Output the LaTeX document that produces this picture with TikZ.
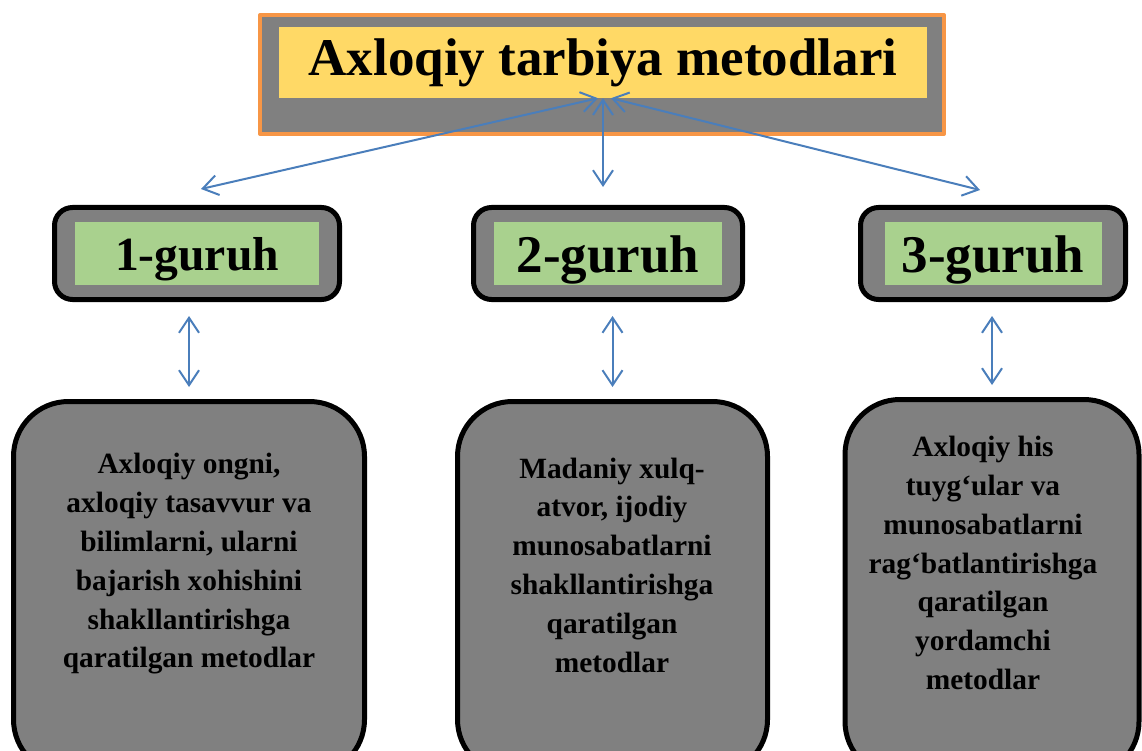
\documentclass[tikz,border=0pt]{standalone}
\usepackage{fontspec}
\setmainfont{Liberation Serif}
\usetikzlibrary{arrows.meta}
\definecolor{boxgray}{RGB}{128,128,128}
\definecolor{titleyellow}{RGB}{255,217,102}
\definecolor{titleorange}{RGB}{247,150,70}
\definecolor{labelgreen}{RGB}{169,209,142}
\definecolor{linkblue}{RGB}{74,126,187}
\begin{document}
\begin{tikzpicture}[x=1pt, y=-1pt, line join = round, >={Straight Barb[length=15pt,width=20pt]}, font=\bfseries]
	\tikzset{link/.style={<->,linkblue,line width=2pt},
		groupbox/.style={draw,line width=5pt,fill=boxgray,rounded corners=18pt,inner sep=0pt,minimum height=92pt},
		descbox/.style={draw,line width=5pt,fill=boxgray,rounded corners=55pt,inner sep=0pt},
		desctext/.style={align=center,font=\bfseries\fontsize{29.4}{38.8}\selectfont}}
	\useasboundingbox (0,0) rectangle (1142,751);
	\path (201,189) coordinate (E1)
	(603,187) coordinate (E2)
	(980,190) coordinate (E3)
	;
	% title
	\node[draw=titleorange,line width=4pt,fill=boxgray,inner sep=0pt,minimum width=684pt,minimum height=119pt] (T) at (602,74.5) {};
	\node[fill=titleyellow,inner sep=0pt,minimum width=648pt,minimum height=71pt,font=\bfseries\fontsize{53}{60}\selectfont] (title) at (603,62.5) {Axloqiy tarbiya metodlari};
	% groups
	\foreach \n/\x/\w/\gw/\s/\h in {1/197/285/244/47.6/35,2/608/269/228/53/40,3/993/265/217/53/40}{
		\node[groupbox,minimum width=\w pt] (b\n) at (\x,253.5) {};
		\node[fill=labelgreen,inner sep=0pt,minimum width=\gw pt,minimum height=62pt,text height=\h pt,text depth=2pt,font=\bfseries\fontsize{\s}{\s}\selectfont] (g\n) at (b\n) {\n-guruh};
	}
	% descriptions
	\node[descbox,minimum width=351pt,minimum height=373pt] (d1) at (189,588) {};
	\node[descbox,minimum width=310pt,minimum height=373pt] (d2) at (612.5,588) {};
	\node[descbox,minimum width=294pt,minimum height=377pt] (d3) at (992,588) {};
	\node[desctext] (t1) at (189,564) {Axloqiy ongni,\\axloqiy tasavvur va\\bilimlarni, ularni\\bajarish xohishini\\shakllantirishga\\qaratilgan metodlar};
	\node[desctext] (t2) at (612,565) {Madaniy xulq-\\atvor, ijodiy\\munosabatlarni\\shakllantirishga\\qaratilgan\\metodlar};
	\node[desctext] (t3) at (983,563) {Axloqiy his\\tuyg‘ular va\\munosabatlarni\\rag‘batlantirishga\\qaratilgan\\yordamchi\\metodlar};
	% arrows
	\draw[link] ([xshift=-5pt]title.south) -- (E1);
	\draw[link] (title.south) -- (E2);
	\draw[link] ([xshift=8pt]title.south) -- (E3);
	\foreach \n in {1,2,3}
	\draw[link,shorten <=14pt,shorten >=12pt] (d\n.north |- b\n.south) -- (d\n.north);
\end{tikzpicture}
\end{document}
